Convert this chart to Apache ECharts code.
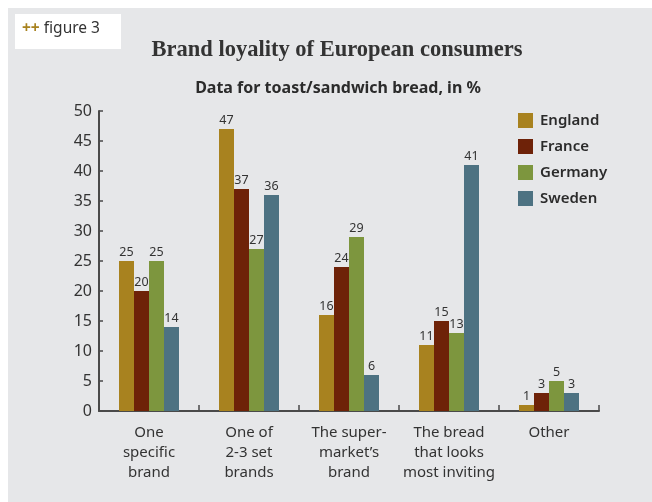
<!DOCTYPE html>
<html>
<head>
<meta charset="utf-8">
<script src="https://cdn.jsdelivr.net/npm/echarts@6/dist/echarts.min.js"></script>
<style>
  html, body { margin: 0; padding: 0; background: #ffffff; }
  #chart { width: 652px; height: 502px; }
</style>
</head>
<body>
<div id="chart"></div>
<script>
// Survey answers: how consumers choose toast/sandwich bread (percent)
const categories = [
  'One\nspecific\nbrand',
  'One of\n2-3 set\nbrands',
  'The super-\nmarket\u2019s\nbrand',
  'The bread\nthat looks\nmost inviting',
  'Other'
];
const england = [25, 47, 16, 11, 1];
const france  = [20, 37, 24, 15, 3];
const germany = [25, 27, 29, 13, 5];
const sweden  = [14, 36, 6, 41, 3];

const countries = ['England', 'France', 'Germany', 'Sweden'];
const colors = ['#a8821f', '#6e2208', '#7d963e', '#4d7282'];
const values = [england, france, germany, sweden];

const SANS = '"Noto Sans", "Open Sans", sans-serif';

const chart = echarts.init(document.getElementById('chart'));

chart.setOption({
  backgroundColor: '#ffffff',
  animation: false,
  textStyle: { fontFamily: SANS },
  graphic: [
    {
      type: 'rect', left: 8, top: 8, z: -10,
      shape: { width: 644, height: 494 },
      style: { fill: '#e6e7e9' }
    },
    {
      type: 'rect', left: 15, top: 14, z: -5,
      shape: { width: 106, height: 35 },
      style: { fill: '#ffffff' }
    },
    {
      type: 'text', left: 22, top: 21,
      style: {
        text: '{p|++} figure 3',
        fontFamily: SANS, fontSize: 15.5, fill: '#333333',
        rich: { p: { fontFamily: SANS, fontSize: 15.5, fontWeight: 'bold', fill: '#a8821f' } }
      }
    }
  ],
  title: [
    {
      text: 'Brand loyality of European consumers',
      left: 332, top: 34, textAlign: 'center',
      textStyle: { fontFamily: '"Liberation Serif", serif', fontWeight: 'bold', fontSize: 22.5, color: '#333333' }
    },
    {
      text: 'Data for toast/sandwich bread, in %',
      left: 333, top: 75, textAlign: 'center',
      textStyle: { fontFamily: SANS, fontWeight: 'bold', fontSize: 16, color: '#2b2b2b' }
    }
  ],
  legend: {
    data: countries,
    orient: 'vertical',
    left: 518, top: 113, padding: 0,
    itemWidth: 15, itemHeight: 15, itemGap: 11,
    icon: 'rect',
    textStyle: { fontFamily: SANS, fontSize: 15, fontWeight: 600, color: '#2b2b2b', padding: [0, 0, 0, 2] }
  },
  grid: { left: 99, right: 53, top: 111, bottom: 91, containLabel: false },
  xAxis: {
    type: 'category',
    data: categories,
    axisLine: { lineStyle: { color: '#4a4a4a', width: 2 } },
    axisTick: { show: true, inside: true, length: 6, alignWithLabel: false, lineStyle: { color: '#4a4a4a', width: 1.5 } },
    axisLabel: {
      fontFamily: SANS, fontSize: 15, color: '#333333', lineHeight: 20, margin: 12, interval: 0
    }
  },
  yAxis: {
    type: 'value',
    min: 0, max: 50, interval: 5,
    splitLine: { show: false },
    axisLine: { show: true, lineStyle: { color: '#4a4a4a', width: 2 } },
    axisTick: { show: true, inside: true, length: 4, lineStyle: { color: '#4a4a4a', width: 1.5 } },
    axisLabel: { fontFamily: SANS, fontSize: 16, color: '#333333', margin: 7 }
  },
  series: countries.map((name, i) => ({
    name: name,
    type: 'bar',
    data: values[i],
    barWidth: 15,
    barGap: '0%',
    itemStyle: { color: colors[i] },
    label: {
      show: true, position: 'top', distance: 2,
      fontFamily: SANS, fontSize: 12.5, color: '#333333'
    }
  }))
});
</script>
</body>
</html>
